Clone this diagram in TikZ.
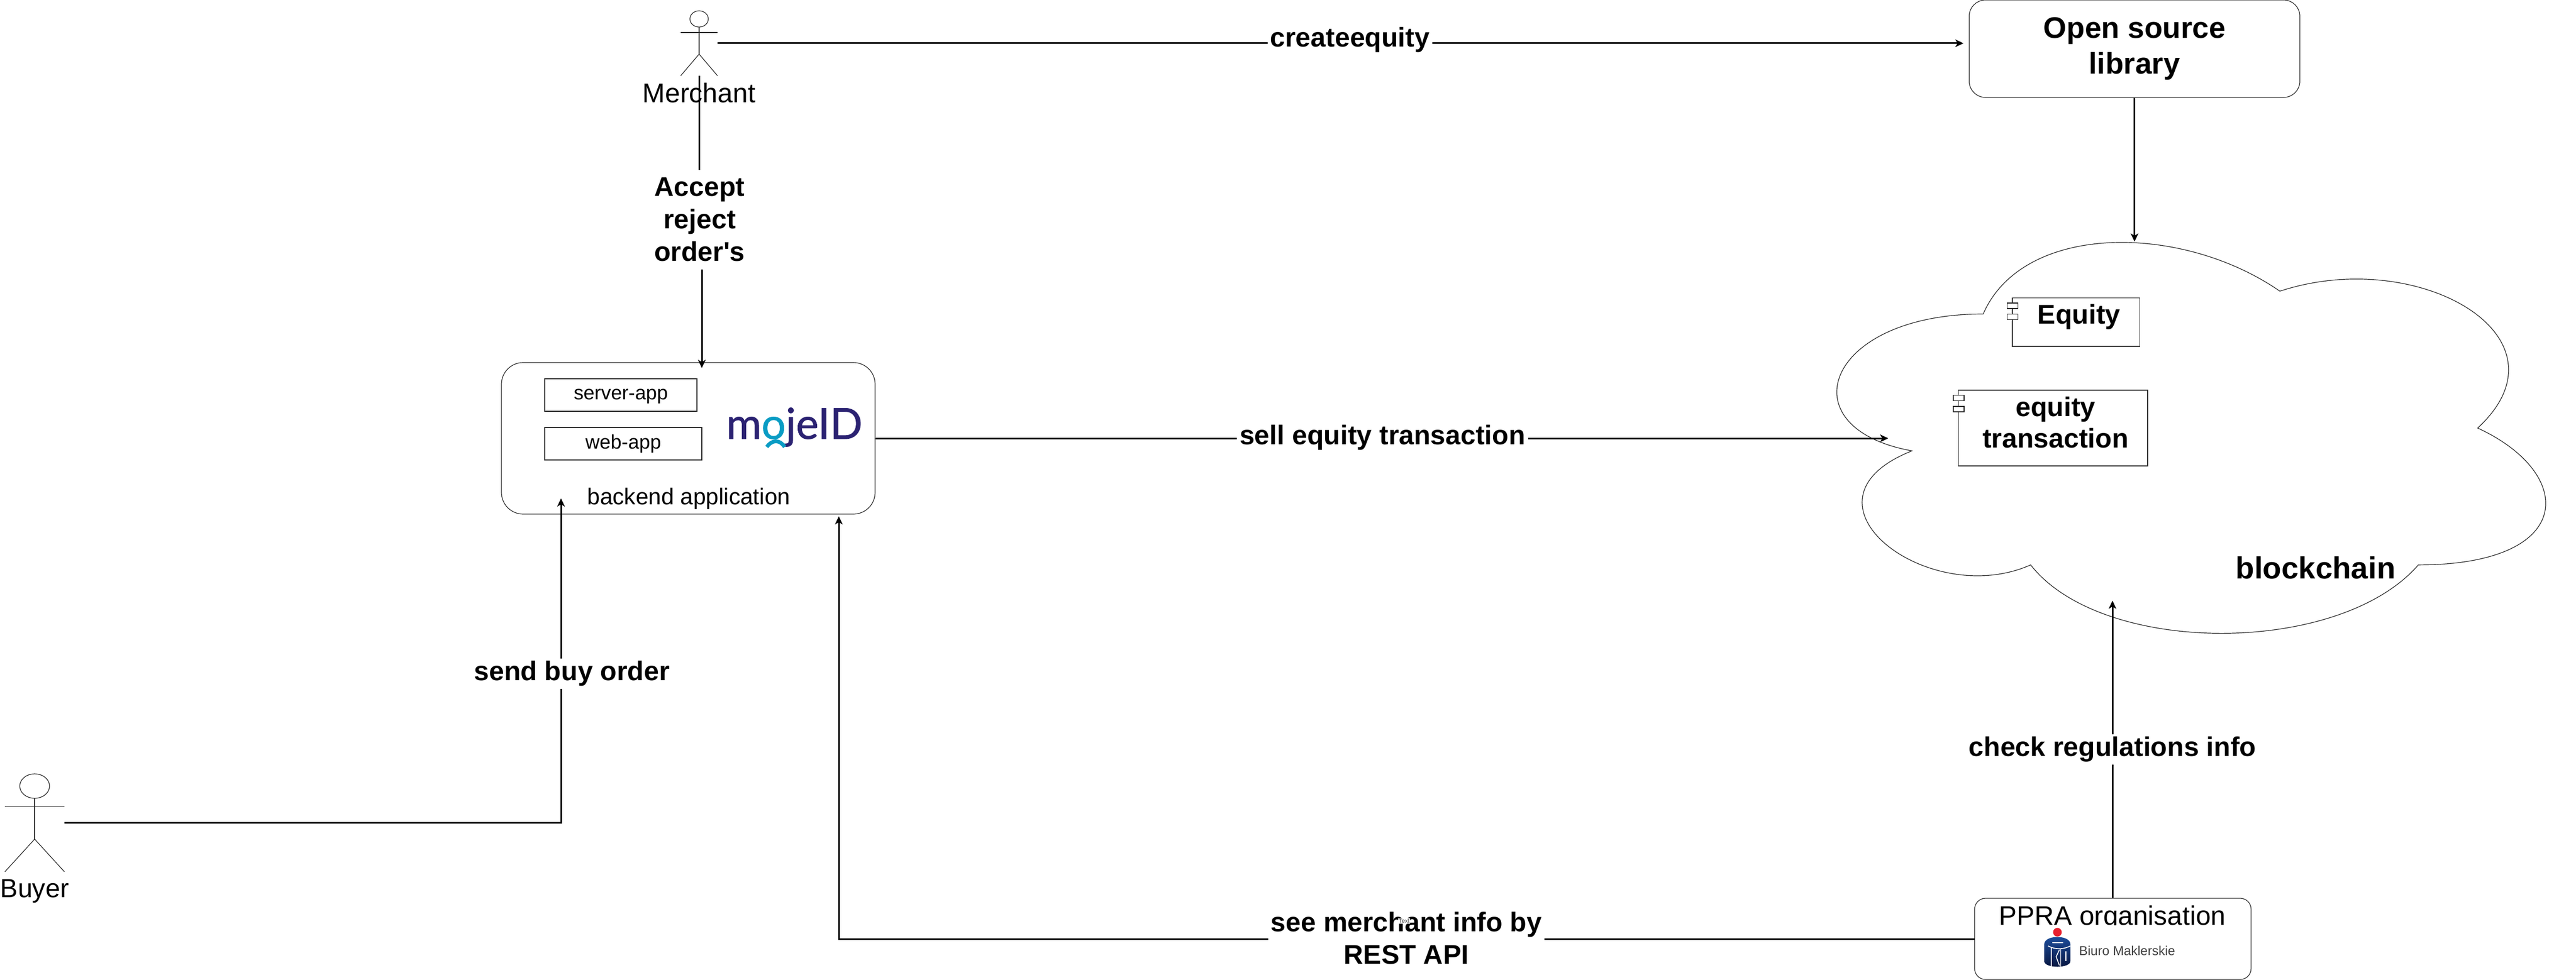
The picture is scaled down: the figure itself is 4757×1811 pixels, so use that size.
\documentclass[tikz,border=0pt]{standalone}
\usepackage{fontspec}
\setmainfont{Liberation Sans}
\newfontfamily\straightfont{Liberation Sans}
\newfontfamily\logofont[FakeBold=1]{Lato}
\usetikzlibrary{arrows.meta}
\definecolor{mojenavy}{HTML}{2B2272}
\definecolor{mojeteal}{HTML}{0A9CC4}
\definecolor{pkored}{HTML}{E8202E}
\definecolor{pkoblue}{HTML}{1C4FA0}
\definecolor{pkodark}{HTML}{07143C}
\tikzset{
	>={Stealth[length=15pt,width=14pt,inset=4pt]},
	thinline/.style={line width=1.2pt,draw=black!85},
	connector/.style={line width=3pt,draw=black},
	appbox/.style={thinline,rectangle,inner sep=0pt},
	applabel/.style={inner sep=0pt,anchor=base,font=\fontsize{36.4}{44}\selectfont},
	roundbox/.style={thinline,rectangle,rounded corners=40pt,inner sep=0pt},
	flowlabel/.style={fill=white,inner sep=5pt,align=center,font=\fontsize{50}{60}\selectfont\bfseries},
	plainlabel/.style={inner sep=0pt,align=center,anchor=base},
	component/.style={thinline,rectangle,inner sep=0pt},
	portbox/.style={thinline,fill=white}
}

\begin{document}
\begin{tikzpicture}[x=1pt,y=-1pt]
	\useasboundingbox (0,0) rectangle (4757,1811);

	% blockchain cloud
	\begin{scope}[shift={(3297,369.5)},x=1461pt,y=-843pt]
		\draw[thinline] (0.25,0.25)
			.. controls (0.05,0.25) and (0,0.5) .. (0.16,0.55)
			.. controls (0,0.66) and (0.18,0.9) .. (0.31,0.8)
			.. controls (0.4,1) and (0.7,1) .. (0.8,0.8)
			.. controls (1,0.8) and (1,0.6) .. (0.875,0.5)
			.. controls (1,0.3) and (0.8,0.1) .. (0.625,0.2)
			.. controls (0.5,0.05) and (0.3,0.05) .. (0.25,0.25) -- cycle;
	\end{scope}
	\node[plainlabel,font=\fontsize{56.5}{60}\selectfont\bfseries] (blockchain) at (4276,1069) {blockchain};
	\coordinate (cloudtop) at (3941.7,446.5);
	\coordinate (cloudleft) at (3487,810);
	\coordinate (cloudbottom) at (3901,1110);

	% components in the cloud
	\node[component,minimum width=235.5pt,minimum height=89.5pt] (equity) at (3833.7,595.3) {};
	\node[component,minimum width=349.5pt,minimum height=140pt] (transaction) at (3791.2,791) {};
	\foreach \px/\py in {3706.5/560,3706.5/580.5,3607/730.5,3607/751}
		\draw[portbox] (\px,\py) rectangle ++(20,10);
	\node[plainlabel,font=\fontsize{50}{60}\selectfont\bfseries] (equitytext) at (3839,598.6) {Equity};
	\node[plainlabel,font=\fontsize{50}{62}\selectfont\bfseries] (transactiontext) at (3796,769) {equity};
	\node[plainlabel,font=\fontsize{50}{62}\selectfont\bfseries] (transactiontext2) at (3796,827) {transaction};

	% actors
	\foreach \name/\x/\y/\w/\h in {merchant/1257/20/68/120,buyer/9/1430/110/181} {
		\node[inner sep=0pt,minimum width=\w pt,minimum height=\h pt] (\name) at ({\x+\w/2},{\y+\h/2}) {};
		\begin{scope}[shift={(\x,\y)},x=\w pt,y=-\h pt]
			\draw[thinline] (0.5,0.125) ellipse (0.25 and 0.125);
			\draw[thinline] (0.5,0.25) -- (0.5,0.6667);
			\draw[thinline] (0,0.3333) -- (1,0.3333);
			\draw[thinline] (0,1) -- (0.5,0.6667) -- (1,1);
		\end{scope}
	}
	\node[plainlabel,font=\fontsize{50}{60}\selectfont] (merchanttext) at (1291,190) {Merchant};
	\node[plainlabel,font=\fontsize{48.5}{60}\selectfont] (buyertext) at (64,1658) {Buyer};

	% backend application
	\node[roundbox,minimum width=690pt,minimum height=280pt] (backend) at (1271,810) {};
	\node[appbox,minimum width=281pt,minimum height=60pt] (serverapp) at (1146.5,730) {};
	\node[appbox,minimum width=290pt,minimum height=60pt] (webapp) at (1151,820) {};
	\node[applabel] (servertext) at (1146.5,738) {server-app};
	\node[applabel] (webtext) at (1151,829) {web-app};
	\node[plainlabel,font=\fontsize{42.4}{50}\selectfont] (backendtext) at (1272,932) {backend application};
	\node[plainlabel,font=\fontsize{79}{90}\logofont\selectfont,text=mojenavy] (mojeid) at (1467,811) {m\textcolor{mojeteal}{o}jeID};
	\draw[mojeteal,line width=7pt] (1416,826) .. controls (1426,812) and (1440,812) .. (1449,826);
	\coordinate (backendtop) at (1296,680);
	\coordinate (backendleft) at (1036,921);
	\coordinate (backendright) at (1549,954);

	% open source library
	\node[roundbox,rounded corners=30pt,minimum width=610.6pt,minimum height=180pt,align=center,font=\fontsize{55}{66}\selectfont\bfseries] (library) at (3941.7,90) {Open source\\library};

	% ppra organisation
	\node[roundbox,rounded corners=20pt,minimum width=510.5pt,minimum height=150pt] (ppra) at (3901.7,1735) {};
	\node[plainlabel,font=\fontsize{49.5}{60}\selectfont] (ppratext) at (3901,1709) {PPRA organisation};
	\fill[white] (3720,1710) rectangle (4080,1795);
	\fill[pkored] (3799.3,1722.7) ellipse (8 and 8);
	\shade[top color=pkoblue,bottom color=pkodark] (3775,1745) .. controls (3775,1727) and (3823.3,1727) .. (3823.3,1745) -- (3823.3,1776) .. controls (3823.3,1790) and (3775,1790) .. (3775,1776) -- cycle;
	\draw[white,line width=2pt] (3790,1741.7) -- (3810,1741.7);
	\draw[white,line width=1.6pt] (3782,1748) .. controls (3795,1755) and (3810,1755) .. (3823.3,1748);
	\draw[white,line width=1.6pt] (3788,1751) -- (3788,1786);
	\draw[white,line width=1.6pt] (3805.5,1753) -- (3805.5,1786);
	\draw[white,line width=1.6pt] (3815,1758) -- (3815,1776);
	\draw[white,line width=1.6pt] (3803,1755) -- (3797,1768) -- (3803,1784);
	\node[plainlabel,font=\fontsize{24}{28}\selectfont,text=black!75] (pkotext) at (3928,1765.7) {Biuro Maklerskie};

	% connectors
	\draw[connector,->] (merchant.east) -- ([xshift=-10pt]library.west |- merchant.east);
	\draw[connector,->] (merchant.south) -- (1291,403) -- (1296,403) -- (backendtop);
	\draw[connector,->] (buyer.east) -| (backendleft);
	\draw[connector,->] (backend.east) -- (cloudleft);
	\draw[connector,->] (ppra.west) -| (backendright);
	\draw[connector,->] (cloudbottom |- ppra.north) -- (cloudbottom);
	\draw[connector,->] (library.south) -- (cloudtop);

	% labels on connectors
	\node[flowlabel] (createlabel) at (2493,74) {createequity};
	\node[flowlabel,minimum height=184pt] (acceptlabel) at (1292,406) {Accept\\reject\\{\straightfont order's}};
	\node[flowlabel] (sendlabel) at (1056,1245) {send buy order};
	\node[flowlabel] (selllabel) at (2553,809) {sell equity transaction};
	\node[flowlabel] (checklabel) at (3901,1385) {check regulations info};
	\node[flowlabel] (seelabel) at (2597,1734) {see merchant info by\\REST API};
	\node[fill=white,inner sep=1pt,text=black!75,font=\fontsize{10.6}{12}\selectfont] (textlabel) at (2593,1702) {Text};
\end{tikzpicture}
\end{document}
